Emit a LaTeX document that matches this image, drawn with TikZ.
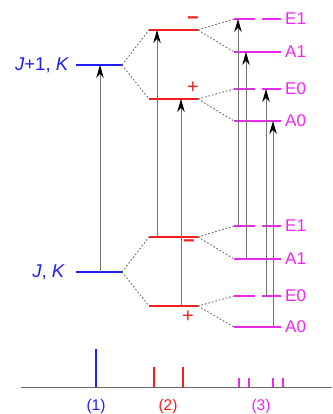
\documentclass[tikz,border=0pt]{standalone}
\usepackage{fontspec}
\setmainfont{Liberation Sans}
\usetikzlibrary{arrows.meta,positioning}

\definecolor{jblue}{RGB}{30,30,245}
\definecolor{pred}{RGB}{245,30,30}
\definecolor{tmag}{RGB}{235,40,235}

\tikzset{
  lev/.style={line width=1.3pt},
  elev/.style={line width=1.3pt, dash pattern=on 21pt off 7pt on 30pt},
  split/.style={dash pattern=on 1.6pt off 2pt, black!60, line width=0.9pt},
  trans/.style={-{Stealth[length=13pt,width=7.5pt,black]}, black!55, line width=0.9pt},
  stick/.style={line width=1.3pt},
  lab/.style={font=\fontsize{17}{17}\selectfont, inner sep=0pt},
  sign/.style={pred, font=\fontsize{20}{20}\selectfont, inner sep=0pt},
}

\begin{document}
\begin{tikzpicture}[x=1pt,y=-1pt]
\useasboundingbox (0,0) rectangle (332,414);

% J, K levels
\coordinate (JuL) at (76,65);  \coordinate (JuR) at (122,65);
\coordinate (JlL) at (76,272); \coordinate (JlR) at (122,272);
\draw[lev,jblue] (JuL) -- (JuR);
\draw[lev,jblue] (JlL) -- (JlR);
\node[lab,jblue,font=\fontsize{18.5}{18.5}\selectfont,left=7pt of JuL] (labJu) {\textit{J}+1, \textit{K}};
\node[lab,jblue,font=\fontsize{18.5}{18.5}\selectfont,left=11pt of JlL] (labJl) {\textit{J}, \textit{K}};

% parity levels
\foreach \n/\y in {um/30,up/99,lm/237,lp/306}
{
\coordinate (\n L) at (149,\y);
\coordinate (\n R) at (198,\y);
\draw[lev,pred] (\n L) -- (\n R);
}
\node[sign,font=\fontsize{20}{20}\selectfont\bfseries] (sum) at (193,21) {\textminus};
\node[sign] (sup) at (193,88) {+};
\node[sign,font=\fontsize{20}{20}\selectfont\bfseries] (slm) at (189,244) {\textminus};
\node[sign] (slp) at (188,317) {+};

\draw[split] (JuR) -- (umL);
\draw[split] (JuR) -- (upL);
\draw[split] (JlR) -- (lmL);
\draw[split] (JlR) -- (lpL);

% torsional levels
\foreach \n/\y/\t in {uE1/19/E1,uA1/52/A1,uE0/89/E0,uA0/121/A0,lE1/226/E1,lA1/259/A1,lE0/296/E0,lA0/327/A0}
{
\coordinate (\n L) at (234,\y);
\coordinate (\n R) at (281,\y);
\node[lab,tmag,anchor=west] (t\n) at (285,\y) {\t};
}
\foreach \n in {uA1,uA0,lA1,lA0}
\draw[lev,tmag] (\n L) -- (\n R);
\foreach \n in {uE1,uE0,lE1,lE0}
\draw[elev,tmag] (\n L) -- (\n R);

\draw[split] (umR) -- (uE1L);
\draw[split] (umR) -- (uA1L);
\draw[split] (upR) -- (uE0L);
\draw[split] (upR) -- (uA0L);
\draw[split] (lmR) -- (lE1L);
\draw[split] (lmR) -- (lA1L);
\draw[split] (lpR) -- (lE0L);
\draw[split] (lpR) -- (lA0L);

% transitions
\coordinate (aJ) at (100,0);
\coordinate (am) at (157,0);
\coordinate (ap) at (181,0);
\coordinate (aE1) at (238,0);
\coordinate (aA1) at (246,0);
\coordinate (aE0) at (266,0);
\coordinate (aA0) at (273,0);
\draw[trans] (aJ |- JlL) -- (aJ |- JuL);
\draw[trans] (am |- lmL) -- (am |- umL);
\draw[trans] (ap |- lpL) -- (ap |- upL);
\draw[trans] (aE1 |- lE1L) -- (aE1 |- uE1L);
\draw[trans] (aA1 |- lA1L) -- (aA1 |- uA1L);
\draw[trans] (aE0 |- lE0L) -- (aE0 |- uE0L);
\draw[trans] (aA0 |- lA0L) -- (aA0 |- uA0L);

% spectrum
\coordinate (axL) at (21,387);
\coordinate (axR) at (332,387);
\draw[black!60,line width=1pt] (axL) -- (axR);
\draw[stick,jblue] (96,387) -- (96,349);
\foreach \x in {154,183}
\draw[stick,pred] (\x,387) -- (\x,367);
\foreach \x in {239,249,273,283}
\draw[stick,tmag] (\x,387) -- (\x,378);
\node[lab,jblue,font=\fontsize{15.5}{15.5}\selectfont] (sp1) at (96,406) {(1)};
\node[lab,pred,font=\fontsize{15.5}{15.5}\selectfont] (sp2) at (168,406) {(2)};
\node[lab,tmag,font=\fontsize{15.5}{15.5}\selectfont] (sp3) at (261,406) {(3)};
\end{tikzpicture}
\end{document}
